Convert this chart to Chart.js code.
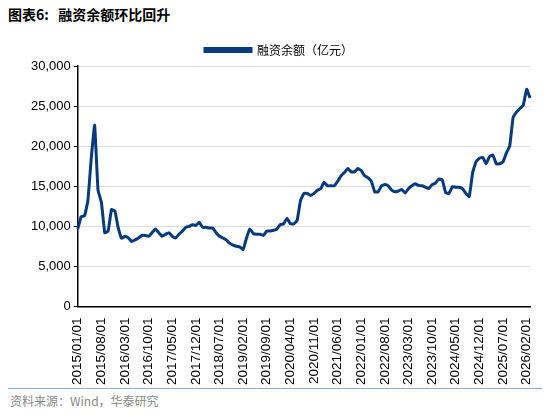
<!DOCTYPE html>
<html><head><meta charset="utf-8">
<script src="https://cdn.jsdelivr.net/npm/chart.js@4"></script>
<style>
body{margin:0;width:550px;height:420px;background:#fff;font-family:"Noto Sans CJK SC",sans-serif;position:relative;overflow:hidden}
#title{position:absolute;left:8px;top:4px;font-size:14px;font-weight:bold;color:#000}
#rule{position:absolute;left:8px;right:8px;top:388px;border-top:1px solid #8fa9c9}
#src{position:absolute;left:10px;top:392px;font-size:12px;color:#888}
#wrap{position:absolute;left:0;top:30px;width:550px;height:358px}
</style></head><body>
<div id="title">图表6:&nbsp;&nbsp;&nbsp;融资余额环比回升</div>
<div id="wrap"><canvas id="c"></canvas></div>
<div id="rule"></div>
<div id="src">资料来源：Wind，华泰研究</div>
<script>
// monthly balance, 2015/01 .. 2026/03
var balance = [
 9650,11200,11300,13200,18500,22600,14500,13000,9200,9400,12100,11900,
 9800,8500,8760,8540,8100,8300,8540,8850,8850,8760,9200,9650,
 9200,8760,9000,9200,8760,8540,9000,9400,9870,10000,10200,10100,
 10500,9870,9870,9780,9780,9200,8760,8540,8300,7900,7650,7500,
 7430,7080,8540,9650,9100,9000,9000,8850,9400,9400,9500,9650,
 10200,10300,11000,10300,10300,10750,13200,14100,14100,13850,14100,14500,
 14700,15500,15050,15050,15050,15600,16300,16700,17200,16800,16800,17200,
 16950,16300,16060,15600,14300,14300,15050,15200,15050,14500,14300,14400,
 14600,14150,14700,15050,15300,15100,15050,14870,14700,15200,15400,15900,
 15800,14200,14100,14950,14870,14870,14700,14100,13700,16700,18050,18500,
 18600,17800,18700,18900,17800,17800,18050,19150,20050,23600,24250,24700,
 25100,27100,26000
];
var months = [];
for (var i = 0; i < balance.length; i++) {
  var y = 2015 + Math.floor(i / 12), m = i % 12 + 1;
  months.push(y + "/" + (m < 10 ? "0" + m : m) + "/01");
}

// a bit of space under the legend
const legendGap = {
  id: "legendGap",
  beforeInit(chart) {
    const fit = chart.legend.fit;
    chart.legend.fit = function () { fit.bind(chart.legend)(); this.height += 14; };
  }
};

new Chart(document.getElementById("c"), {
  type: "line",
  data: {
    labels: months,
    datasets: [{
      label: "融资余额（亿元）",
      data: balance,
      borderColor: "#063a80",
      backgroundColor: "#063a80",
      borderWidth: 3,
      radius: 0,
      tension: 0.1
    }]
  },
  options: {
    animation: false,
    maintainAspectRatio: false,
    layout: {padding: {left: 28, right: 20, top: 4, bottom: 0}},
    plugins: {
      legend: {
        labels: {boxWidth: 46, boxHeight: 3, color: "#000",
          font: {family: "Noto Sans CJK SC", size: 12}}
      }
    },
    scales: {
      x: {
        offset: false,
        grid: {display: false, drawTicks: true},
        border: {color: "#000", width: 1.5},
        ticks: {
          autoSkip: false, maxRotation: 90, minRotation: 90,
          color: "#000", font: {family: "Arial", size: 13.5},
          callback: function (v, i) { return i % 7 === 0 ? months[i] : null; }
        }
      },
      y: {
        min: 0, max: 30000,
        border: {color: "#000", width: 1.5},
        grid: {color: "#ddd", borderDash: [2, 3], tickColor: "#000", tickLength: 4},
        ticks: {stepSize: 5000, color: "#000", font: {family: "Arial", size: 13},
          callback: function (v) { return v.toLocaleString("en-US"); }}
      }
    }
  }
});
</script>
</body></html>
